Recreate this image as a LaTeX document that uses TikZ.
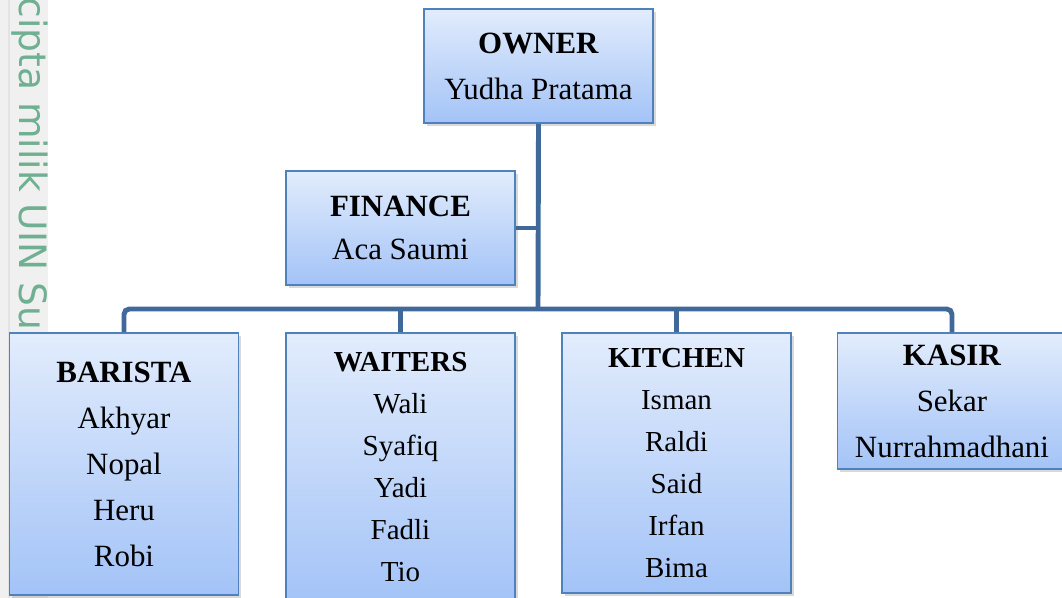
\documentclass[tikz,border=0pt]{standalone}
\usepackage{fontspec}
\setmainfont{Liberation Serif}
\newfontfamily\wmfont{DejaVu Sans}
\usepackage{tikz}
\usetikzlibrary{shadows}

\definecolor{boxtop}{RGB}{226,236,252}
\definecolor{boxbot}{RGB}{163,195,247}
\definecolor{boxline}{RGB}{79,129,189}
\definecolor{linkblue}{RGB}{64,104,152}
\definecolor{wmgreen}{RGB}{112,176,146}
\definecolor{wmgray}{RGB}{240,240,240}

\begin{document}
\begin{tikzpicture}[x=0.02cm, y=-0.02cm,
  unit/.style={draw=boxline, line width=1.1pt, top color=boxtop, bottom color=boxbot, align=center, inner sep=0pt, minimum width=4.58cm, drop shadow={shadow xshift=1.5pt, shadow yshift=-1.5pt, opacity=0.3}},
  link/.style={draw=linkblue, line width=2.8pt, rounded corners=3pt},
  big/.style={font=\fontsize{17.6}{26.2}\selectfont},
  small/.style={font=\fontsize{16.5}{23.9}\selectfont}]
\useasboundingbox (0,0) rectangle (1062,598);
% watermark strip
\fill[wmgray] (0,0) rectangle (48,598);
\draw[gray!22, line width=0.8pt] (9,0) -- (9,598);
\node[rotate=-90, anchor=base west, inner sep=0pt, text=wmgreen, font=\wmfont\fontsize{21.4}{24}\selectfont] (wm) at (19,-3) {cipta milik UIN Su};
% boxes
\node[unit, big, minimum height=2.28cm] (owner) at (538.5,66) {\textbf{OWNER}\\Yudha Pratama};
\node[unit, big, minimum height=2.28cm, font=\fontsize{17.6}{24.4}\selectfont] (finance) at (400.5,228) {\textbf{FINANCE}\\Aca Saumi};
\node[unit, big, minimum height=5.24cm] (barista) at (124,464) {\textbf{BARISTA}\\Akhyar\\Nopal\\Heru\\Robi};
\node[unit, small, minimum height=5.38cm] (waiters) at (400.5,467.5) {\textbf{WAITERS}\\Wali\\Syafiq\\Yadi\\Fadli\\Tio};
\node[unit, small, minimum height=5.2cm] (kitchen) at (676.5,463) {\textbf{KITCHEN}\\Isman\\Raldi\\Said\\Irfan\\Bima};
\node[unit, big, minimum height=2.72cm] (kasir) at (952,401) {\textbf{KASIR}\\Sekar\\Nurrahmadhani};
% lines
\coordinate (bus) at (538,309);
\draw[link] (owner.south) -- (bus);
\draw[link] (finance.east) -- (finance.east -| bus);
\draw[link] (barista.north) |- (bus) -| (kasir.north);
\draw[link] (waiters.north) -- (waiters.north |- bus);
\draw[link] (kitchen.north) -- (kitchen.north |- bus);
\end{tikzpicture}
\end{document}
